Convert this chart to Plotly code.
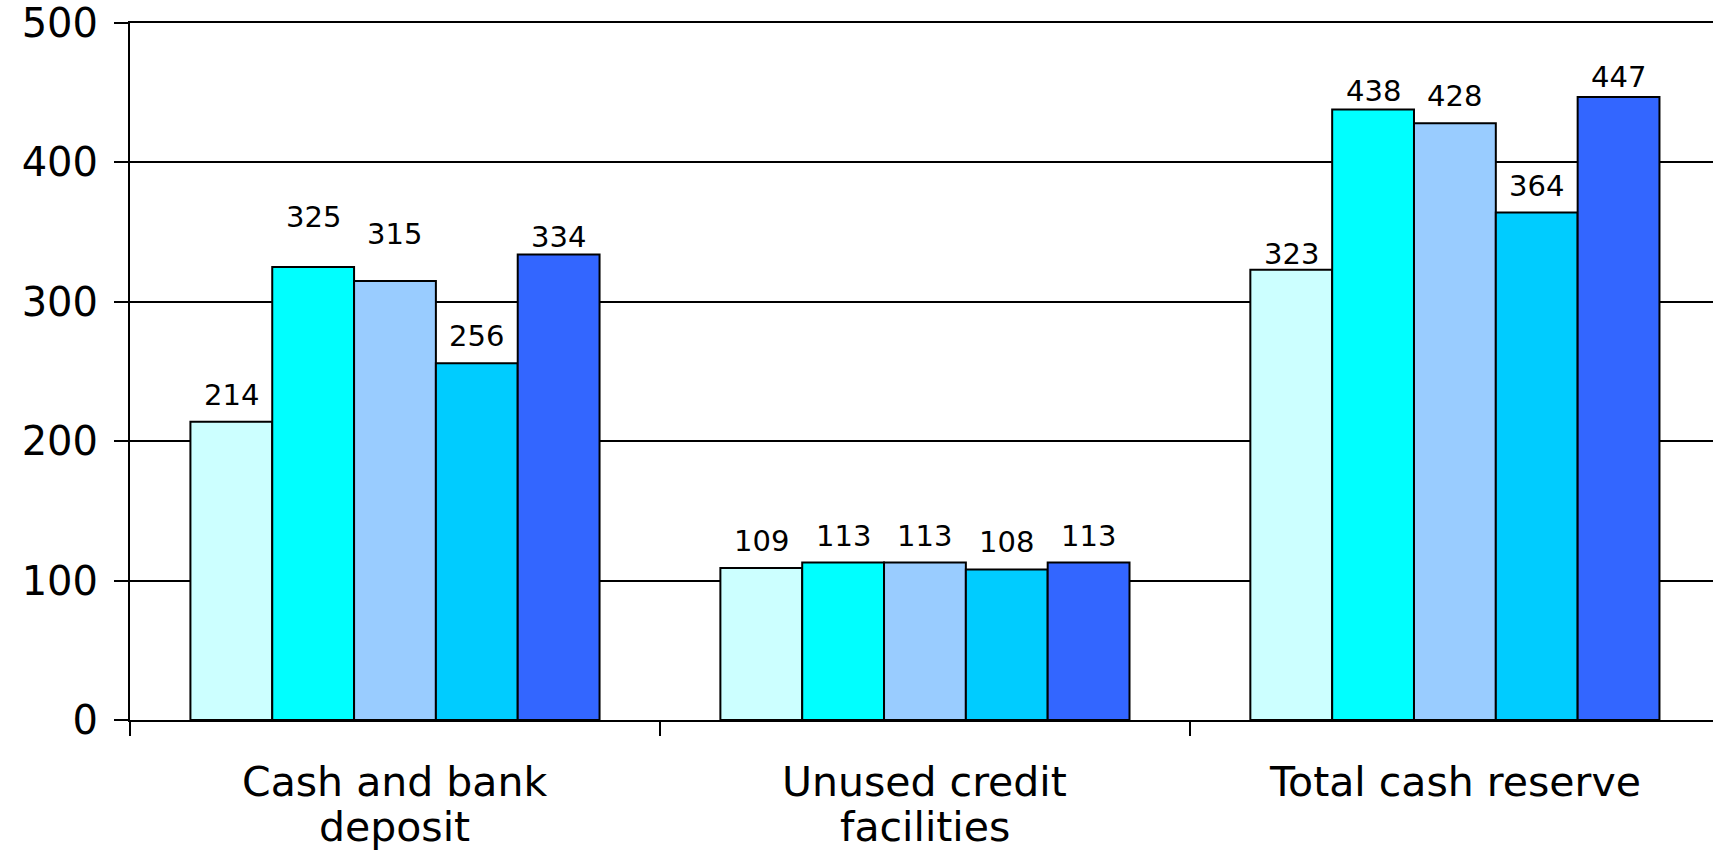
import plotly.graph_objects as go

categories = ["Cash and bank<br>deposit", "Unused credit<br>facilities", "Total cash reserve"]
series_names = ["S1", "S2", "S3", "S4", "S5"]
values = {
    "S1": [214, 109, 323],
    "S2": [325, 113, 438],
    "S3": [315, 113, 428],
    "S4": [256, 108, 364],
    "S5": [334, 113, 447],
}
colors = ["#CCFFFF", "#00FFFF", "#99CCFF", "#00CCFF", "#3366FF"]
# extra vertical gap (px) between bar top and its label, as placed in the original
label_gap = {
    "S1": [18, 18, 7],
    "S2": [41, 17, 9],
    "S3": [38, 17, 18],
    "S4": [18, 18, 18],
    "S5": [8, 17, 11],
}

FONT = "DejaVu Sans"
bargap = 0.228
n = len(series_names)

fig = go.Figure()
for i, name in enumerate(series_names):
    fig.add_trace(go.Bar(
        name=name, x=categories, y=values[name],
        marker=dict(color=colors[i], line=dict(color="black", width=2)),
        hoverinfo="skip",
    ))

slot = (1 - bargap) / n
annotations = []
for i, name in enumerate(series_names):
    for j, v in enumerate(values[name]):
        xpos = j - (1 - bargap) / 2 + (i + 0.5) * slot
        annotations.append(dict(
            x=xpos, y=v, xref="x", yref="y", text=str(v), showarrow=False,
            yanchor="bottom", xanchor="center", yshift=label_gap[name][j] - 10,
            font=dict(family=FONT, size=29, color="black"),
        ))
# category labels below the axis (one text per line, tight line spacing)
line_shift = [-62, -107]
for j, cat in enumerate(categories):
    for k, line in enumerate(cat.split("<br>")):
        annotations.append(dict(
            x=j, y=0, xref="x", yref="paper", text=line, showarrow=False,
            yanchor="middle", xanchor="center", yshift=line_shift[k], borderpad=0,
            font=dict(family=FONT, size=41, color="black"),
        ))

fig.update_layout(
    width=1713, height=854,
    margin=dict(l=130, r=0, t=23, b=134),
    paper_bgcolor="white", plot_bgcolor="white",
    barmode="group", bargap=bargap, bargroupgap=0,
    showlegend=False,
    annotations=annotations,
    font=dict(family=FONT, color="black"),
)
fig.update_xaxes(
    type="category",
    range=[-0.5, 2.487],
    showline=True, linecolor="black", linewidth=2, mirror=True,
    ticks="outside", tickson="boundaries", ticklen=14, tickwidth=2, tickcolor="black",
    showgrid=False, zeroline=False, showticklabels=False,
)
fig.update_yaxes(
    range=[0, 500], tickvals=[0, 100, 200, 300, 400, 500],
    showline=True, linecolor="black", linewidth=2,
    ticks="outside", ticklen=14, tickwidth=2, tickcolor="black",
    showgrid=True, gridcolor="black", gridwidth=2, zeroline=False,
    tickfont=dict(family=FONT, size=40, color="black"),
    ticklabelstandoff=8,
)
fig.write_html("out.html")
